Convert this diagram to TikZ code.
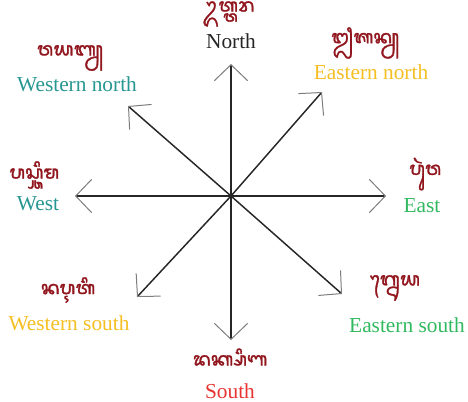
\documentclass[tikz,border=0pt]{standalone}
\usepackage{fontspec}
\setmainfont{Liberation Serif}
\newfontfamily\balifont[Script=Balinese,FakeBold=1.6]{Noto Sans Balinese}
\usetikzlibrary{arrows.meta}
\definecolor{balired}{RGB}{145,22,30}
\definecolor{dirteal}{RGB}{40,150,145}
\definecolor{dirgreen}{RGB}{50,185,95}
\definecolor{dirgold}{RGB}{245,190,35}
\definecolor{dirred}{RGB}{232,52,48}
\definecolor{tipgray}{RGB}{125,125,125}

\begin{document}
\begin{tikzpicture}[x=0.75pt,y=-0.75pt,
  balitext/.style={text=balired,font=\balifont\bfseries\fontsize{14}{16}\selectfont,inner sep=0pt},
  dirtext/.style={font=\fontsize{16}{19}\selectfont,inner sep=0pt},
  dirarrow/.style={draw=black!85,line width=1.1pt,-{Straight Barb[length=12pt,width=25pt,line width=0.75pt,color=tipgray]}}]
\useasboundingbox (0,0) rectangle (468,401);
% centre and arrow tips
\coordinate (c) at (231,196);
\coordinate (n) at (231,64);
\coordinate (s) at (231,340);
\coordinate (e) at (386,196);
\coordinate (w) at (75,196);
\coordinate (ne) at (322,92);
\coordinate (nw) at (128,106);
\coordinate (se) at (342,294);
\coordinate (sw) at (137,297);
\foreach \tip in {n,s,e,w,ne,nw,se,sw}
  \draw[dirarrow] (c) -- (\tip);
% labels
\node[balitext] (nbali) at (229,14) {ᬉᬢ᭄ᬢᬭ};
\node[dirtext,text=black!85] (ntext) at (231,41) {North};
\node[balitext] (nebali) at (365,43) {ᬐᬰᬦ᭄ᬬ};
\node[dirtext,text=dirgold] (netext) at (371,72) {Eastern north};
\node[balitext] (nwbali) at (70,58) {ᬯᬬᬩ᭄ᬬ};
\node[dirtext,text=dirteal] (nwtext) at (77,84) {Western north};
\node[balitext] (wbali) at (34,175) {ᬧᬲ᭄ᬘᬶᬫ};
\node[dirtext,text=dirteal] (wtext) at (38,204) {West};
\node[balitext] (ebali) at (425,174) {ᬧᬸᬃᬯ};
\node[dirtext,text=dirgreen] (etext) at (422,206) {East};
\node[balitext] (swbali) at (68,290) {ᬦᬋᬢᬶ};
\node[dirtext,text=dirgold] (swtext) at (69,323) {Western south};
\node[balitext] (sebali) at (395,288) {ᬕ᭄ᬦᬾᬬ};
\node[dirtext,text=dirgreen] (setext) at (407,325) {Eastern south};
\node[balitext] (sbali) at (230,357) {ᬤᬓ᭄ᬱᬶᬡ};
\node[dirtext,text=dirred] (stext) at (230,391) {South};
\end{tikzpicture}
\end{document}
